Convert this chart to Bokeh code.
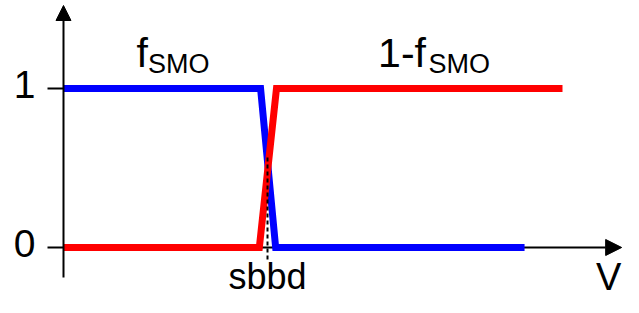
from bokeh.plotting import figure
from bokeh.models import Range1d, Arrow, NormalHead
from bokeh.core.properties import value
from bokeh.embed import file_html
from bokeh.resources import INLINE

# ---- data (arbitrary voltage units on x, fraction on y) ----
v_blue = [0.0, 4.83, 5.20, 11.30]
f_smo = [1, 1, 0, 0]
v_red = [0.0, 4.80, 5.22, 12.23]
one_minus_f_smo = [0, 0, 1, 1]
sbbd_v = 5.0
y_ticks = [0, 1]
y_tick_labels = ["0", "1"]
x_ticks = [sbbd_v]
x_tick_labels = ["sbbd"]
x_axis_label = "V"
curve_labels = ["f", "1-f"]
curve_subs = ["SMO", "SMO"]

FONT = value("Liberation Sans")

p = figure(width=623, height=297,
           x_range=Range1d(-1.544, 13.725), y_range=Range1d(-0.3145, 1.5535),
           x_axis_location=None, y_axis_location=None,
           toolbar_location=None, output_backend="svg",
           min_border=0, outline_line_color=None,
           background_fill_color="white", border_fill_color="white")
p.grid.visible = False

# x axis (below the curves)
p.add_layout(Arrow(end=NormalHead(size=16, fill_color="black", line_color="black", line_width=1),
                   x_start=0, y_start=0, x_end=13.68, y_end=0,
                   line_color="black", line_width=2, level="underlay"))

# curves
p.line(v_blue, f_smo, line_color="#0000ff", line_width=7, line_join="miter")
p.line(v_red, one_minus_f_smo, line_color="#ff0000", line_width=7, line_join="miter")

# y axis with arrow
p.add_layout(Arrow(end=NormalHead(size=15, fill_color="black", line_color="black", line_width=1),
                   x_start=0, y_start=-0.189, x_end=0, y_end=1.522,
                   line_color="black", line_width=2))

# y ticks
p.segment(x0=[-0.392] * len(y_ticks), y0=y_ticks, x1=[0] * len(y_ticks), y1=y_ticks,
          line_color="black", line_width=2)
p.text(x=[0] * len(y_ticks), y=y_ticks, text=y_tick_labels, text_font=FONT,
       text_font_size="39px", text_align="right", text_baseline="middle",
       x_offset=-28, y_offset=-4, text_color="black")

# sbbd marker
p.segment(x0=[sbbd_v], y0=[0.566], x1=[sbbd_v], y1=[-0.094],
          line_color="black", line_width=2, line_dash="4 3")
p.text(x=x_ticks, y=[0] * len(x_ticks), text=x_tick_labels, text_font=FONT,
       text_font_size="36px", text_align="center", text_baseline="middle",
       y_offset=29, text_color="black")

# axis label V
p.text(x=[13.05], y=[0], text=[x_axis_label], text_font=FONT,
       text_font_size="38px", text_align="left", text_baseline="middle",
       y_offset=30, text_color="black")

# curve labels
p.text(x=[1.789, 7.711], y=[1.226, 1.226], text=curve_labels, text_font=FONT,
       text_font_size="41px", text_align="left", text_baseline="middle",
       text_color="black")
p.text(x=[2.071, 8.946], y=[1.1566, 1.1566], text=curve_subs, text_font=FONT,
       text_font_size="27px", text_align="left", text_baseline="middle",
       text_color="black")

open("out.html", "w").write(file_html(p, INLINE))
